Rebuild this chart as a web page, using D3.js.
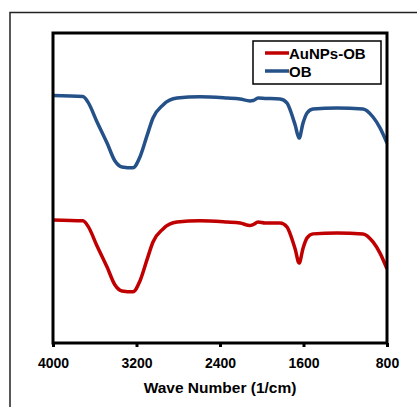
<!DOCTYPE html>
<html><head><meta charset="utf-8">
<script src="https://cdn.jsdelivr.net/npm/d3@7"></script>
<style>html,body{margin:0;padding:0;background:#fff;}svg{display:block;}</style>
</head><body>
<script>
const wavenumbers = [4000,3713,3665,3578,3482,3406,3339,3234,3167,3100,3042,2946,2812,2592,2333,2208,2112,2083,2035,1968,1824,1757,1728,1680,1642,1604,1566,1509,1279,1030,934,867,800];
const obValues = [79.8,79.5,77.7,71.3,64.5,58.7,56.8,56.5,60.0,66.8,72.6,76.8,79.0,79.4,79.0,78.7,78.1,78.2,79.0,78.9,78.7,77.4,75.2,70.3,66.1,71.0,74.2,75.5,75.8,75.5,72.9,69.4,64.5];
const aunpsValues = [39.7,39.4,37.7,31.3,24.5,18.7,16.8,16.5,20.0,26.8,32.6,36.8,39.0,39.4,39.0,38.7,37.9,38.2,39.0,38.7,38.7,37.4,35.2,30.3,25.8,30.6,33.9,35.2,35.5,35.2,32.6,29.0,23.9];
const xTicks = [4000,3200,2400,1600,800];
const seriesNames = ["AuNPs-OB","OB"];
const seriesColors = ["#c00000","#255189"];

const W = 417, H = 407;
const L = 53, R = 387, T = 33, B = 343;
const svg = d3.select("body").append("svg").attr("width", W).attr("height", H);

// outer border
svg.append("rect").attr("x",10).attr("y",12.5).attr("width",430).attr("height",420)
  .attr("fill","none").attr("stroke","#222").attr("stroke-width",1.5);

const x = d3.scaleLinear().domain([4000,800]).range([L,R]);
const y = d3.scaleLinear().domain([0,100]).range([B,T]);

const line = d3.line().x(d=>x(d[0])).y(d=>y(d[1])).curve(d3.curveMonotoneX);
const data = [aunpsValues, obValues].map(vals => wavenumbers.map((w,i)=>[w, vals[i]]));

svg.append("clipPath").attr("id","clip").append("rect").attr("x",L).attr("y",T).attr("width",R-L).attr("height",B-T);
const g = svg.append("g").attr("clip-path","url(#clip)");
data.forEach((d,i)=>{
  g.append("path").attr("d", line(d)).attr("fill","none")
   .attr("stroke", seriesColors[i]).attr("stroke-width",3.5).attr("stroke-linejoin","round");
});

// frame
svg.append("rect").attr("x",L).attr("y",T).attr("width",R-L).attr("height",B-T)
  .attr("fill","none").attr("stroke","#000").attr("stroke-width",3);

// x axis
const ax = svg.append("g").attr("transform",`translate(0,${B})`)
  .call(d3.axisBottom(x).tickValues(xTicks).tickFormat(d3.format("d")).tickSize(4).tickPadding(11).tickSizeOuter(0));
ax.select(".domain").remove();
ax.selectAll(".tick line").attr("stroke","#000").attr("stroke-width",3);
ax.selectAll(".tick text").attr("font-family","Liberation Sans, Arial, sans-serif")
  .attr("font-weight","bold").attr("font-size","14px").attr("fill","#000");

svg.append("text").attr("x",(L+R)/2).attr("y",393).attr("text-anchor","middle")
  .attr("font-family","Liberation Sans, Arial, sans-serif").attr("font-weight","bold")
  .attr("font-size","15.5px").attr("fill","#000").text("Wave Number (1/cm)");

// legend
const lg = svg.append("g");
lg.append("rect").attr("x",253).attr("y",41).attr("width",128).attr("height",43)
  .attr("fill","#fff").attr("stroke","#000").attr("stroke-width",1.5);
const ly = [53, 71];
seriesNames.forEach((n,i)=>{
  lg.append("line").attr("x1",265).attr("x2",289).attr("y1",ly[i]).attr("y2",ly[i])
    .attr("stroke",seriesColors[i]).attr("stroke-width",3.5);
  lg.append("text").attr("x",289).attr("y",ly[i]+5.5)
    .attr("font-family","Liberation Sans, Arial, sans-serif").attr("font-weight","bold")
    .attr("font-size","15px").attr("fill","#000").text(n);
});
</script>
</body></html>
